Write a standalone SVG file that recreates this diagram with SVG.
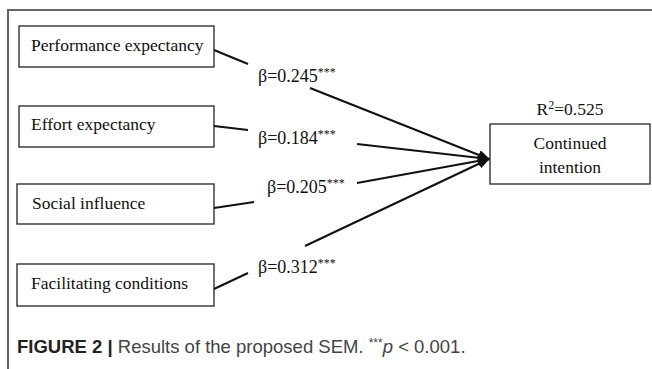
<svg xmlns="http://www.w3.org/2000/svg" width="652" height="369" viewBox="0 0 652 369">
<style>
.box{fill:#fff;stroke:#222;stroke-width:1.3}
.t{font-family:"Liberation Serif",serif;font-size:17.5px;fill:#111}
.lb{font-size:18px}
.ln{stroke:#111;stroke-width:2;fill:none}
.sup{font-size:12px}
.cap{font-family:"Liberation Sans",Arial,sans-serif;font-size:18.5px;fill:#444}
</style>
<defs>
<marker id="ah" markerWidth="12" markerHeight="10" refX="11" refY="5" orient="auto" markerUnits="userSpaceOnUse">
<path d="M0,0 L12,5 L0,10 Z" fill="#111"/>
</marker>
</defs>
<rect width="652" height="369" fill="#fff"/>
<path d="M8,369 L8,10 L652,10" fill="none" stroke="#666" stroke-width="2"/>
<g id="n1"><rect class="box" x="19" y="26" width="195" height="41"/><text class="t" x="31" y="51">Performance expectancy</text></g>
<g id="n2"><rect class="box" x="19" y="106" width="195" height="41"/><text class="t" x="31" y="130">Effort expectancy</text></g>
<g id="n3"><rect class="box" x="17" y="184" width="197" height="40"/><text class="t" x="32" y="209">Social influence</text></g>
<g id="n4"><rect class="box" x="17" y="264" width="197" height="42"/><text class="t" x="31" y="289">Facilitating conditions</text></g>
<g id="n5"><rect class="box" x="490" y="124" width="160" height="60"/><text class="t" x="570" y="149" text-anchor="middle">Continued</text><text class="t" x="570" y="173" text-anchor="middle">intention</text></g>
<g id="connectors">
<line class="ln" x1="214" y1="50" x2="248" y2="64"/>
<line class="ln" x1="310" y1="88" x2="489" y2="159" marker-end="url(#ah)"/>
<line class="ln" x1="214" y1="126" x2="248" y2="130"/>
<line class="ln" x1="357" y1="144" x2="489" y2="159" marker-end="url(#ah)"/>
<line class="ln" x1="214" y1="208" x2="254" y2="202"/>
<line class="ln" x1="357" y1="183" x2="489" y2="159" marker-end="url(#ah)"/>
<line class="ln" x1="214" y1="289" x2="248" y2="273"/>
<line class="ln" x1="305" y1="246" x2="489" y2="159" marker-end="url(#ah)"/>
</g>
<g id="labels">
<text class="t lb" x="258" y="82">β=0.245<tspan class="sup" dy="-6">***</tspan></text>
<text class="t lb" x="258" y="144">β=0.184<tspan class="sup" dy="-6">***</tspan></text>
<text class="t lb" x="267" y="193">β=0.205<tspan class="sup" dy="-6">***</tspan></text>
<text class="t lb" x="258" y="273">β=0.312<tspan class="sup" dy="-6">***</tspan></text>
<text class="t" x="570" y="115" text-anchor="middle">R<tspan class="sup" dy="-6">2</tspan><tspan dy="6">=0.525</tspan></text>
</g>
<text class="cap" x="17" y="353"><tspan font-weight="bold" fill="#222">FIGURE 2 |</tspan> Results of the proposed SEM. <tspan class="sup" dy="-6">***</tspan><tspan dy="6" font-style="italic">p</tspan> &lt; 0.001.</text>
</svg>
